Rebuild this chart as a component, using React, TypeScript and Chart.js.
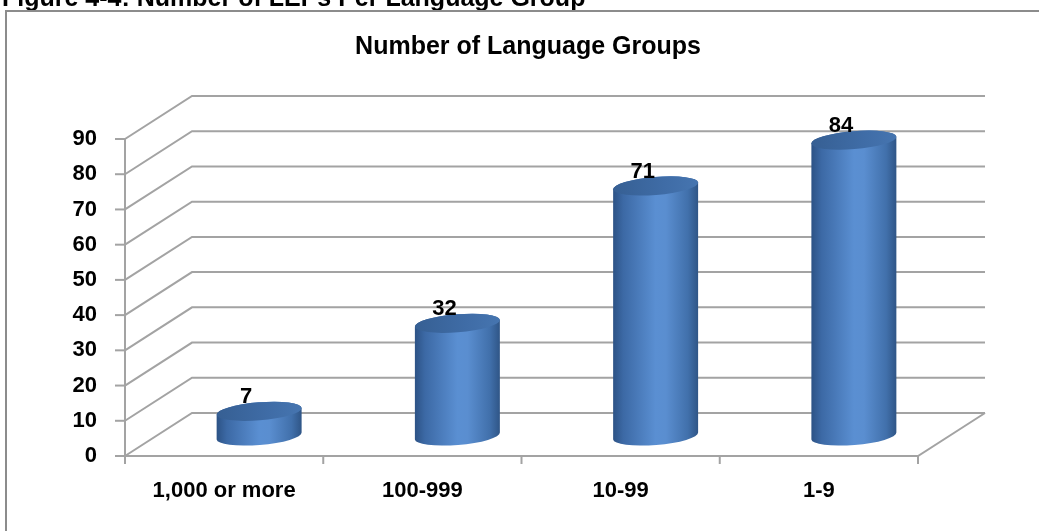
import React, { useEffect, useRef } from "react";
import { Chart, registerables } from "chart.js";

Chart.register(...registerables);

const categories = ["1,000 or more", "100-999", "10-99", "1-9"];
const values = [7, 32, 71, 84];
const yTickValues = [0, 10, 20, 30, 40, 50, 60, 70, 80, 90];
const chartTitle = "Number of Language Groups";
const figureCaption = "Figure 4-4: Number of LEPs Per Language Group";

const FONT = "Arial, 'Liberation Sans', sans-serif";
const BACK_DX = 67;
const BACK_DY = -43;
const MID_DX = 35;
const MID_DY = -20;
const GRID_COLOR = "#a3a3a3";

const threeDPlugin = {
  id: "threeD",
  beforeDraw(chart: any) {
    const ctx = chart.ctx;
    ctx.save();
    ctx.fillStyle = "#ffffff";
    ctx.fillRect(0, 0, chart.width, chart.height);
    // caption (cut at top)
    ctx.fillStyle = "#000";
    ctx.font = `bold 25px ${FONT}`;
    ctx.textAlign = "left";
    ctx.textBaseline = "alphabetic";
    ctx.fillText(figureCaption, 2, 6);
    // frame
    ctx.strokeStyle = "#8c8c8c";
    ctx.lineWidth = 2;
    ctx.strokeRect(6, 11, chart.width + 20, chart.height + 20);
    // chart title
    ctx.font = `bold 25px ${FONT}`;
    ctx.textAlign = "center";
    ctx.textBaseline = "middle";
    ctx.fillText(chartTitle, 528, 47);
    ctx.restore();
  },
  beforeDatasetsDraw(chart: any) {
    const ctx = chart.ctx;
    const { left, right, bottom } = chart.chartArea;
    const ys = chart.scales.y;
    const xs = chart.scales.x;
    ctx.save();
    ctx.strokeStyle = GRID_COLOR;
    ctx.lineWidth = 2;
    ctx.lineCap = "butt";
    yTickValues.forEach((v) => {
      const py = ys.getPixelForValue(v);
      ctx.beginPath();
      ctx.moveTo(left, py);
      ctx.lineTo(left + BACK_DX, py + BACK_DY);
      ctx.lineTo(right + BACK_DX, py + BACK_DY);
      ctx.stroke();
      ctx.beginPath();
      ctx.moveTo(left - 10, py);
      ctx.lineTo(left, py);
      ctx.stroke();
    });
    // vertical axis
    const topPx = ys.getPixelForValue(yTickValues[yTickValues.length - 1]);
    ctx.beginPath();
    ctx.moveTo(left, topPx);
    ctx.lineTo(left, bottom + 6);
    ctx.stroke();
    // floor front and right edge
    ctx.beginPath();
    ctx.moveTo(left, bottom);
    ctx.lineTo(right, bottom);
    ctx.lineTo(right + BACK_DX, bottom + BACK_DY);
    ctx.stroke();
    // category ticks
    const n = categories.length;
    const step = xs.getPixelForValue(1) - xs.getPixelForValue(0);
    for (let i = 0; i <= n; i++) {
      const px = xs.getPixelForValue(0) - step / 2 + i * step;
      ctx.beginPath();
      ctx.moveTo(px, bottom);
      ctx.lineTo(px, bottom + 8);
      ctx.stroke();
    }
    ctx.restore();
  },
  afterDatasetsDraw(chart: any) {
    const ctx = chart.ctx;
    const meta = chart.getDatasetMeta(0);
    const rot = -0.08;
    const ry = 9;
    ctx.save();
    meta.data.forEach((bar: any, i: number) => {
      const rx = bar.width / 2;
      const cx = bar.x + MID_DX;
      const ty = bar.y + MID_DY;
      const by = bar.base + MID_DY;
      const cos = Math.cos(rot);
      const sin = Math.sin(rot);
      const grad = ctx.createLinearGradient(cx - rx, 0, cx + rx, 0);
      grad.addColorStop(0, "#2c5285");
      grad.addColorStop(0.12, "#3c69a5");
      grad.addColorStop(0.5, "#5a8fd2");
      grad.addColorStop(0.62, "#5a8ed0");
      grad.addColorStop(0.88, "#4170ab");
      grad.addColorStop(1, "#2f5586");
      // body
      ctx.beginPath();
      ctx.moveTo(cx - rx * cos, ty - rx * sin);
      ctx.ellipse(cx, by, rx, ry, rot, Math.PI, 0, true);
      ctx.lineTo(cx + rx * cos, ty + rx * sin);
      ctx.ellipse(cx, ty, rx, ry, rot, 0, Math.PI, true);
      ctx.closePath();
      ctx.fillStyle = grad;
      ctx.fill();
      // top cap
      const capGrad = ctx.createLinearGradient(cx - rx, 0, cx + rx, 0);
      capGrad.addColorStop(0, "#365f93");
      capGrad.addColorStop(0.6, "#3f6ca6");
      capGrad.addColorStop(1, "#4675b0");
      ctx.beginPath();
      ctx.ellipse(cx, ty, rx, ry, rot, 0, Math.PI * 2);
      ctx.fillStyle = capGrad;
      ctx.fill();
      // label
      ctx.fillStyle = "#000";
      ctx.font = `bold 22px ${FONT}`;
      ctx.textAlign = "center";
      ctx.textBaseline = "alphabetic";
      ctx.fillText(String(values[i]), cx - 13, ty - ry + 1);
    });
    ctx.restore();
  },
};

export default function App() {
  const ref = useRef<HTMLCanvasElement | null>(null);
  useEffect(() => {
    if (!ref.current) return;
    const chart = new Chart(ref.current, {
      type: "bar",
      data: {
        labels: categories,
        datasets: [
          {
            data: values,
            backgroundColor: "rgba(0,0,0,0)",
            borderWidth: 0,
            categoryPercentage: 1,
            barPercentage: 0.43,
          },
        ],
      },
      options: {
        animation: false,
        responsive: true,
        maintainAspectRatio: false,
        events: [],
        layout: { padding: { left: 0, right: 121, top: 139, bottom: 0 } },
        plugins: {
          legend: { display: false },
          title: { display: false },
          tooltip: { enabled: false },
        },
        scales: {
          x: {
            grid: { display: false, drawTicks: false },
            border: { display: false },
            ticks: {
              color: "#000",
              font: { family: FONT, size: 22, weight: "bold" },
              padding: 22,
              maxRotation: 0,
              autoSkip: false,
            },
            afterFit: (s: any) => {
              s.height = 75;
            },
          },
          y: {
            min: 0,
            max: 90,
            grid: { display: false, drawTicks: false },
            border: { display: false },
            ticks: {
              stepSize: 10,
              color: "#000",
              font: { family: FONT, size: 22, weight: "bold" },
              padding: 28,
            },
            afterFit: (s: any) => {
              s.width = 125;
            },
          },
        },
      },
      plugins: [threeDPlugin],
    });
    return () => chart.destroy();
  }, []);
  return (
    <div style={{ position: "fixed", left: 0, top: 0, width: 1039, height: 531, background: "#fff" }}>
      <canvas ref={ref} />
    </div>
  );
}
